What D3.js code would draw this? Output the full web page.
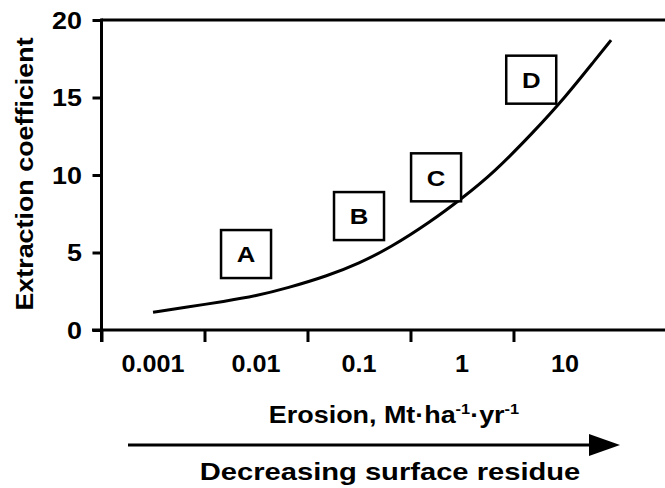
<!DOCTYPE html>
<html>
<head>
<meta charset="utf-8">
<script src="https://cdn.jsdelivr.net/npm/d3@7"></script>
<style>
  body { margin: 0; background: #fff; }
  text { font-family: "Liberation Sans", Arial, sans-serif; font-weight: bold; fill: #000; }
</style>
</head>
<body>
<svg id="chart" width="665" height="488"></svg>
<script>
// Extraction coefficient versus erosion rate
const erosion     = [0.001, 0.002, 0.005, 0.01, 0.02, 0.05, 0.1, 0.2, 0.5, 1, 2, 5, 10, 20, 28];
const coefficient = [1.15, 1.45, 1.85, 2.2, 2.7, 3.5, 4.3, 5.3, 7.0, 8.5, 10.1, 12.8, 15.0, 17.5, 18.7];

const xLabelValues = [0.001, 0.01, 0.1, 1, 10];
const xLabels      = ["0.001", "0.01", "0.1", "1", "10"];
const xTickMarks   = [0.000316, 0.00316, 0.0316, 0.316, 3.16];
const yTicks       = [0, 5, 10, 15, 20];

// Lettered boxes placed along the curve
const boxLabels      = ["A", "B", "C", "D"];
const boxErosion     = [0.008, 0.1, 0.56, 4.7];
const boxCoefficient = [4.9, 7.35, 9.85, 16.15];

const svg = d3.select("#chart");
const W = 665;

const x = d3.scaleLog().domain([0.000316, 100]).range([101.5, 668]);
const y = d3.scaleLinear().domain([0, 20]).range([330, 20]);

const axisColor = "#000";
const sw = 3;

// Bold lettering, slightly widened horizontally
function label(parent, px, py, str, size, anchor, sx, rotate) {
  return parent.append("text")
    .attr("transform", `translate(${px},${py})${rotate ? ` rotate(${rotate})` : ""} scale(${sx},1)`)
    .attr("text-anchor", anchor)
    .attr("font-size", size)
    .text(str);
}

// Y axis
const yAxis = svg.append("g").attr("transform", `translate(${x(0.000316)},0)`)
  .call(d3.axisLeft(y).tickValues(yTicks).tickSize(9).tickFormat("").tickSizeOuter(0));
yAxis.select(".domain").remove();
yAxis.selectAll(".tick line").attr("stroke", axisColor).attr("stroke-width", sw);
yTicks.forEach(v => label(svg, 82, y(v) + 8.5, String(v), 24, "end", 1.12));
svg.append("line")
  .attr("x1", x(0.000316)).attr("x2", x(0.000316))
  .attr("y1", y(20) - 1.5).attr("y2", 342)
  .attr("stroke", axisColor).attr("stroke-width", sw);

// Top frame line
svg.append("line")
  .attr("x1", x(0.000316)).attr("x2", W)
  .attr("y1", y(20)).attr("y2", y(20))
  .attr("stroke", axisColor).attr("stroke-width", sw);

// X axis: ticks between decades, labels on decades
svg.append("line")
  .attr("x1", 92).attr("x2", W)
  .attr("y1", y(0)).attr("y2", y(0))
  .attr("stroke", axisColor).attr("stroke-width", sw);
const xAxis = svg.append("g").attr("transform", `translate(0,${y(0)})`)
  .call(d3.axisBottom(x).tickValues(xTickMarks).tickSize(12).tickFormat(""));
xAxis.select(".domain").remove();
xAxis.selectAll(".tick line").attr("stroke", axisColor).attr("stroke-width", sw);
xLabelValues.forEach((v, i) => label(svg, x(v), 372, xLabels[i], 24, "middle", 1.05));

// Axis titles
label(svg, 33, 174, "Extraction coefficient", 24, "middle", 1.12, -90);

const xt = svg.append("text")
  .attr("transform", "translate(394,423) scale(1.17,1)")
  .attr("text-anchor", "middle")
  .attr("font-size", 23);
xt.append("tspan").text("Erosion, Mt\u00B7ha");
xt.append("tspan").attr("font-size", 14).attr("dy", -9).text("-1");
xt.append("tspan").attr("dy", 9).text("\u00B7yr");
xt.append("tspan").attr("font-size", 14).attr("dy", -9).text("-1");

// Arrow
svg.append("line")
  .attr("x1", 128).attr("x2", 592)
  .attr("y1", 445).attr("y2", 445)
  .attr("stroke", "#000").attr("stroke-width", 3);
svg.append("path")
  .attr("d", "M589,434 L620,445 L589,456 Z")
  .attr("fill", "#000");

label(svg, 390, 480, "Decreasing surface residue", 24.5, "middle", 1.19);

// Curve
const line = d3.line()
  .x((d, i) => x(erosion[i]))
  .y(d => y(d))
  .curve(d3.curveBasis);
svg.append("path")
  .datum(coefficient)
  .attr("d", line)
  .attr("fill", "none")
  .attr("stroke", "#000")
  .attr("stroke-width", 3);

// Boxes
const boxes = svg.append("g").selectAll("g")
  .data(boxLabels)
  .join("g")
  .attr("transform", (d, i) => `translate(${x(boxErosion[i])},${y(boxCoefficient[i])})`);
boxes.append("rect")
  .attr("x", -25).attr("y", -24)
  .attr("width", 50).attr("height", 48)
  .attr("fill", "#fff")
  .attr("stroke", "#000").attr("stroke-width", 2.5);
boxes.append("text")
  .attr("transform", "scale(1.12,1)")
  .attr("text-anchor", "middle")
  .attr("dy", "0.36em")
  .attr("font-size", 23)
  .text(d => d);
</script>
</body>
</html>
